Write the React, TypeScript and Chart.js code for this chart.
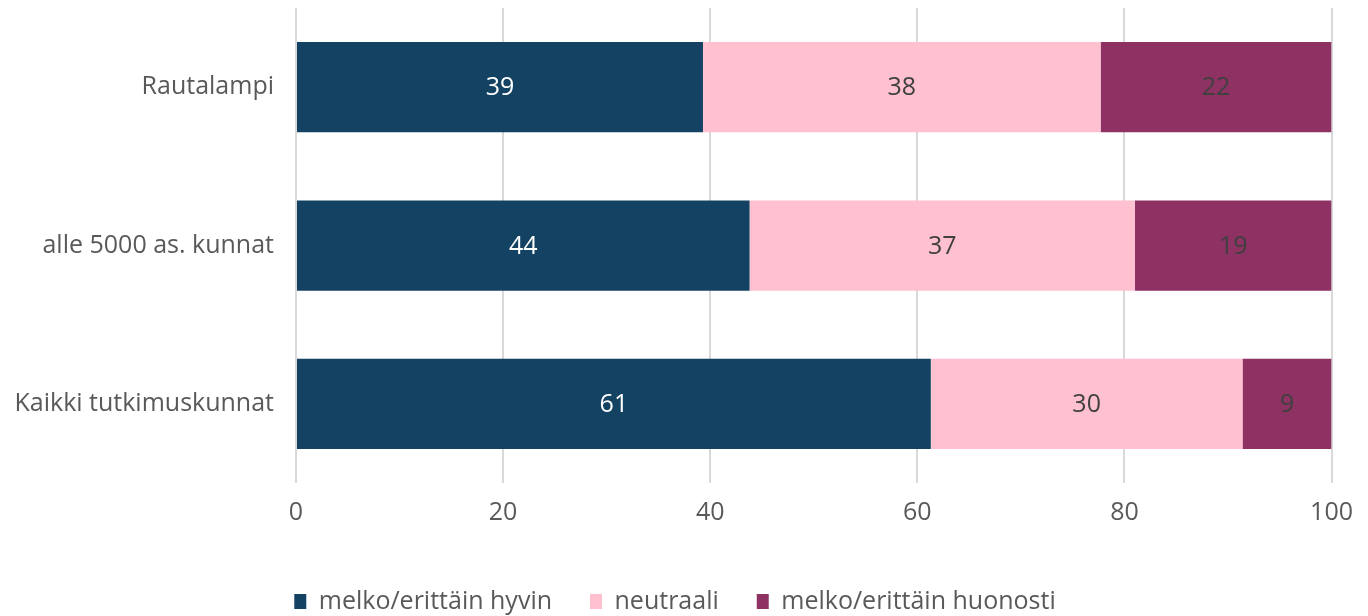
import React, { useEffect, useRef } from "react";
import { Chart, registerables } from "chart.js";

Chart.register(...registerables);

const categories = ["Rautalampi", "alle 5000 as. kunnat", "Kaikki tutkimuskunnat"];
const seriesNames = ["melko/erittäin hyvin", "neutraali", "melko/erittäin huonosti"];
const hyvin = [39.3, 43.8, 61.3];
const neutraali = [38.4, 37.2, 30.1];
const huonosti = [22.3, 19.0, 8.6];
const seriesColors = ["#144263", "#FFC0CF", "#8E3163"];
const labelColors = ["#FFFFFF", "#404040", "#404040"];
const xTicks = [0, 20, 40, 60, 80, 100];

const FONT = "'Open Sans', sans-serif";
const FS = 25;

const valueLabels = {
  id: "valueLabels",
  afterDatasetsDraw(chart: any) {
    const ctx = chart.ctx;
    ctx.save();
    ctx.font = `${FS}px ${FONT}`;
    ctx.textAlign = "center";
    ctx.textBaseline = "middle";
    chart.data.datasets.forEach((ds: any, di: number) => {
      const meta = chart.getDatasetMeta(di);
      meta.data.forEach((el: any, i: number) => {
        const v = ds.data[i];
        const cx = (el.x + el.base) / 2;
        ctx.fillStyle = labelColors[di];
        ctx.fillText(String(Math.round(v)), cx, el.y + 1);
      });
    });
    ctx.restore();
  },
};

export default function App() {
  const ref = useRef<HTMLCanvasElement>(null);
  useEffect(() => {
    if (!ref.current) return;
    const data = [hyvin, neutraali, huonosti];
    const chart = new Chart(ref.current, {
      type: "bar",
      data: {
        labels: categories,
        datasets: seriesNames.map((name, i) => ({
          label: name,
          data: data[i],
          backgroundColor: seriesColors[i],
          borderWidth: 0,
          categoryPercentage: 0.57,
          barPercentage: 1,
        })),
      },
      options: {
        indexAxis: "y",
        animation: false,
        responsive: false,
        maintainAspectRatio: false,
        layout: { padding: { left: 0, right: 18, top: 8, bottom: -8 } },
        scales: {
          x: {
            stacked: true,
            min: 0,
            max: 100,
            afterBuildTicks: (s: any) => {
              s.ticks = xTicks.map((v) => ({ value: v }));
            },
            grid: { color: "#D9D9D9", lineWidth: 2, drawTicks: false },
            border: { display: false },
            ticks: { color: "#595959", font: { size: FS, family: FONT }, padding: 15 },
            afterFit: (s: any) => {
              s.height = 68;
            },
          },
          y: {
            stacked: true,
            grid: { display: false, drawTicks: false },
            border: { display: false },
            ticks: { color: "#595959", font: { size: FS, family: FONT }, padding: 22 },
            afterFit: (s: any) => {
              s.width = 296;
              s.paddingTop = 0;
              s.paddingBottom = 0;
            },
          },
        },
        plugins: {
          legend: {
            position: "bottom",
            labels: {
              color: "#595959",
              font: { size: FS, family: FONT },
              boxWidth: 12,
              boxHeight: 15,
              padding: 38,
            },
          },
          tooltip: { enabled: false },
        },
      },
      plugins: [valueLabels],
    } as any);
    return () => chart.destroy();
  }, []);
  return (
    <div style={{ position: "absolute", left: 0, top: 0, width: 1368, height: 616 }}>
      <canvas ref={ref} width={1368} height={616} />
    </div>
  );
}
